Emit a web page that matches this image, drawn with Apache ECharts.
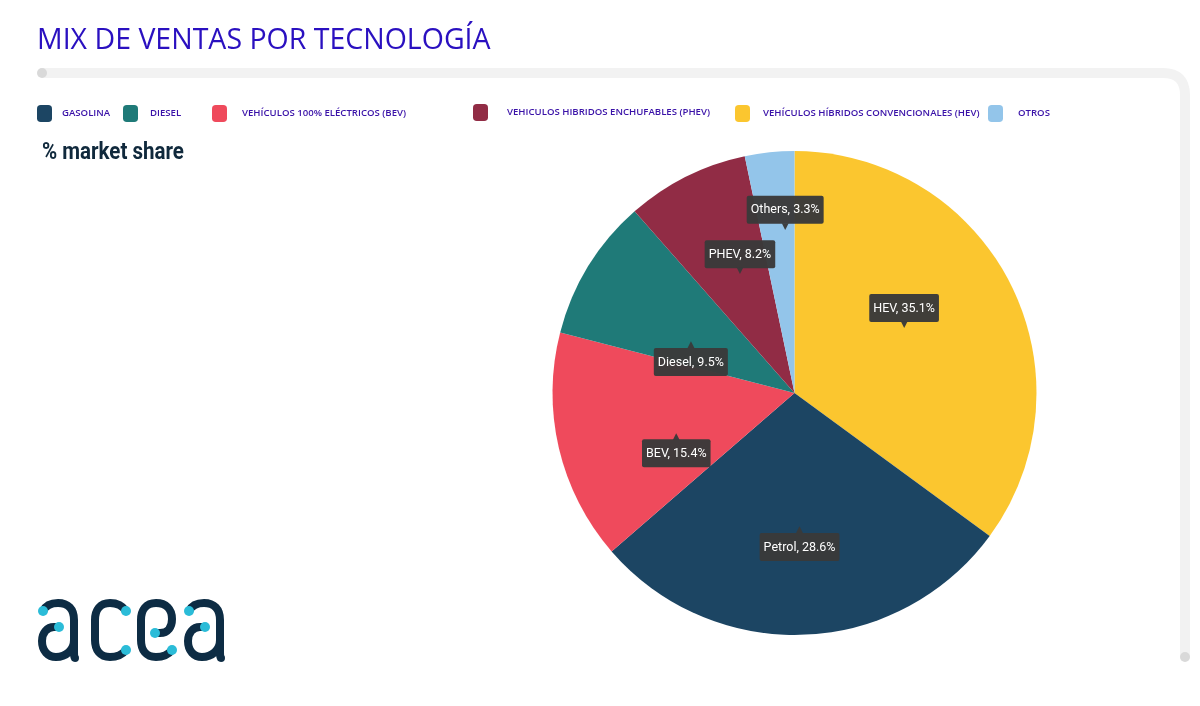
<!DOCTYPE html>
<html>
<head>
<meta charset="utf-8">
<title>Mix de ventas</title>
<script src="https://cdn.jsdelivr.net/npm/echarts@6/dist/echarts.min.js"></script>
<style>
html, body { margin: 0; padding: 0; background: #fff; }
#chart { width: 1200px; height: 706px; }
</style>
</head>
<body>
<div id="chart"></div>
<script>
// datos
var categories = ['HEV', 'Petrol', 'BEV', 'Diesel', 'PHEV', 'Others'];
var shares = [35.1, 28.6, 15.4, 9.5, 8.2, 3.3];
var legendNames = ['Petrol', 'Diesel', 'BEV', 'PHEV', 'HEV', 'Others'];
var legendLabels = ['GASOLINA', 'DIESEL', 'VEHÍCULOS 100% ELÉCTRICOS (BEV)', 'VEHICULOS HIBRIDOS ENCHUFABLES (PHEV)', 'VEHÍCULOS HÍBRIDOS CONVENCIONALES (HEV)', 'OTROS'];

// estilos
var colors = {Petrol: '#1c4563', Diesel: '#1f7a78', BEV: '#ef4a5c', PHEV: '#912c45', HEV: '#fbc62f', Others: '#93c5ea'};
var labelOffsets = {HEV: [-1, -26], Petrol: [0, 27], BEV: [2.5, 29], Diesel: [2, 31], PHEV: [1, -25], Others: [3.5, -57]};
var labelArrowDown = {HEV: true, PHEV: true, Others: true};
var legendLeft = [37, 123, 212, 473, 735, 988];
var legendTop = [105, 105, 105, 104, 105, 105];
var legendGap = [5, 7, 10, 14, 8, 10];
var legendDrop = [0, 0, 2, 0, 5, 3];

var boxStyle = {
	color: '#fff',
	fontFamily: 'Roboto',
	fontSize: 12.5,
	backgroundColor: 'rgba(58,58,58,0.97)',
	borderRadius: 2,
	padding: [8, 4, 7, 4]
};
var arrowStyle = {color: 'rgba(58,58,58,0.97)', fontSize: 9, lineHeight: 6, fontFamily: 'DejaVu Sans'};

var pieData = categories.map(function(name, i) {
	var down = labelArrowDown[name];
	return {
		name: name,
		value: shares[i],
		itemStyle: {color: colors[name]},
		label: {
			offset: labelOffsets[name],
			formatter: down ? '{box|' + name + ', ' + shares[i] + '%}\n{arrow|▼}' : '{arrow|▲}\n{box|' + name + ', ' + shares[i] + '%}'
		}
	};
});

var legends = legendNames.map(function(name, i) {
	return {
		data: [name],
		left: legendLeft[i],
		top: legendTop[i],
		icon: 'roundRect',
		itemWidth: 15,
		itemHeight: 17,
		selectedMode: false,
		padding: 0,
		formatter: function() { return legendLabels[i]; },
		textStyle: {
			color: '#3a12a8',
			fontFamily: 'Open Sans',
			fontWeight: 600,
			fontSize: 9.6,
			padding: [legendDrop[i] * 2, 0, 0, legendGap[i]]
		}
	};
});

// logo acea
function logoA(dx) {
	return 'M' + (43 + dx) + ' 611 C' + (46 + dx) + ' 605 ' + (52 + dx) + ' 603 ' + (58 + dx) + ' 603 C' + (68 + dx) + ' 603 ' + (74 + dx) + ' 609 ' + (74 + dx) + ' 620 L' + (74 + dx) + ' 650 C' + (74 + dx) + ' 654 ' + (74 + dx) + ' 658 ' + (75 + dx) + ' 658 ' +
		'M' + (59 + dx) + ' 627 L' + (54 + dx) + ' 627 C' + (47 + dx) + ' 627 ' + (42 + dx) + ' 633 ' + (42 + dx) + ' 641 C' + (42 + dx) + ' 651 ' + (48 + dx) + ' 657 ' + (56 + dx) + ' 657 C' + (66 + dx) + ' 657 ' + (74 + dx) + ' 650 ' + (74 + dx) + ' 640';
}
var logoPaths = [
	logoA(0),
	'M126 611 C122 605 116 603 110 603 C100 603 95 610 95 620 L95 640 C95 650 100 657 110 657 C116 657 122 655 126 650',
	'M155 633 L160 633 C168 633 172 627 172 619 C172 609 166 603 156 603 C146 603 141 610 141 620 L141 640 C141 650 146 657 156 657 C162 657 168 655 172 650',
	logoA(146)
];
var logoDots = [[43, 611], [59, 627], [126, 611], [126, 650], [155, 633], [172, 650], [189, 611], [205, 627]];

// el componente graphic no tiene tipo path, se registran como formas
function addPath(list, name, d, style) {
	echarts.graphic.registerShape(name, echarts.graphic.extendPath(d));
	list.push({type: name, style: style});
}

var graphics = [];
addPath(graphics, 'frameLine', 'M42 73 L1163 73 Q1185 73 1185 95 L1185 657', {fill: null, stroke: '#f2f2f2', lineWidth: 10});
graphics.push({type: 'circle', shape: {cx: 42, cy: 73, r: 5}, style: {fill: '#d9d9d9'}});
graphics.push({type: 'circle', shape: {cx: 1185, cy: 657, r: 5}, style: {fill: '#d9d9d9'}});
logoPaths.forEach(function(p, i) {
	addPath(graphics, 'logoPath' + i, p, {fill: null, stroke: '#0d2c44', lineWidth: 8, lineCap: 'round'});
});
logoDots.forEach(function(d) {
	graphics.push({type: 'circle', shape: {cx: d[0], cy: d[1], r: 5}, style: {fill: '#2bbcd8'}});
});
graphics.push({
	type: 'text',
	x: 42,
	y: 141,
	scaleX: 0.855,
	style: {text: '% market share', fill: '#10293c', font: 'bold 24px Roboto'}
});

var chart = echarts.init(document.getElementById('chart'));
chart.setOption({
	animation: false,
	backgroundColor: '#fff',
	title: {
		text: 'MIX DE VENTAS POR TECNOLOGÍA',
		left: 37,
		top: 26,
		padding: 0,
		textStyle: {color: '#2a10c0', fontFamily: 'Open Sans', fontWeight: 'normal', fontSize: 28.5}
	},
	legend: legends,
	graphic: graphics,
	series: [{
		type: 'pie',
		center: [794.5, 393],
		radius: [0, 242],
		startAngle: 90,
		clockwise: true,
		data: pieData,
		silent: true,
		labelLine: {show: false},
		label: {
			show: true,
			position: 'inside',
			rich: {box: boxStyle, arrow: arrowStyle}
		}
	}]
});
</script>
</body>
</html>
